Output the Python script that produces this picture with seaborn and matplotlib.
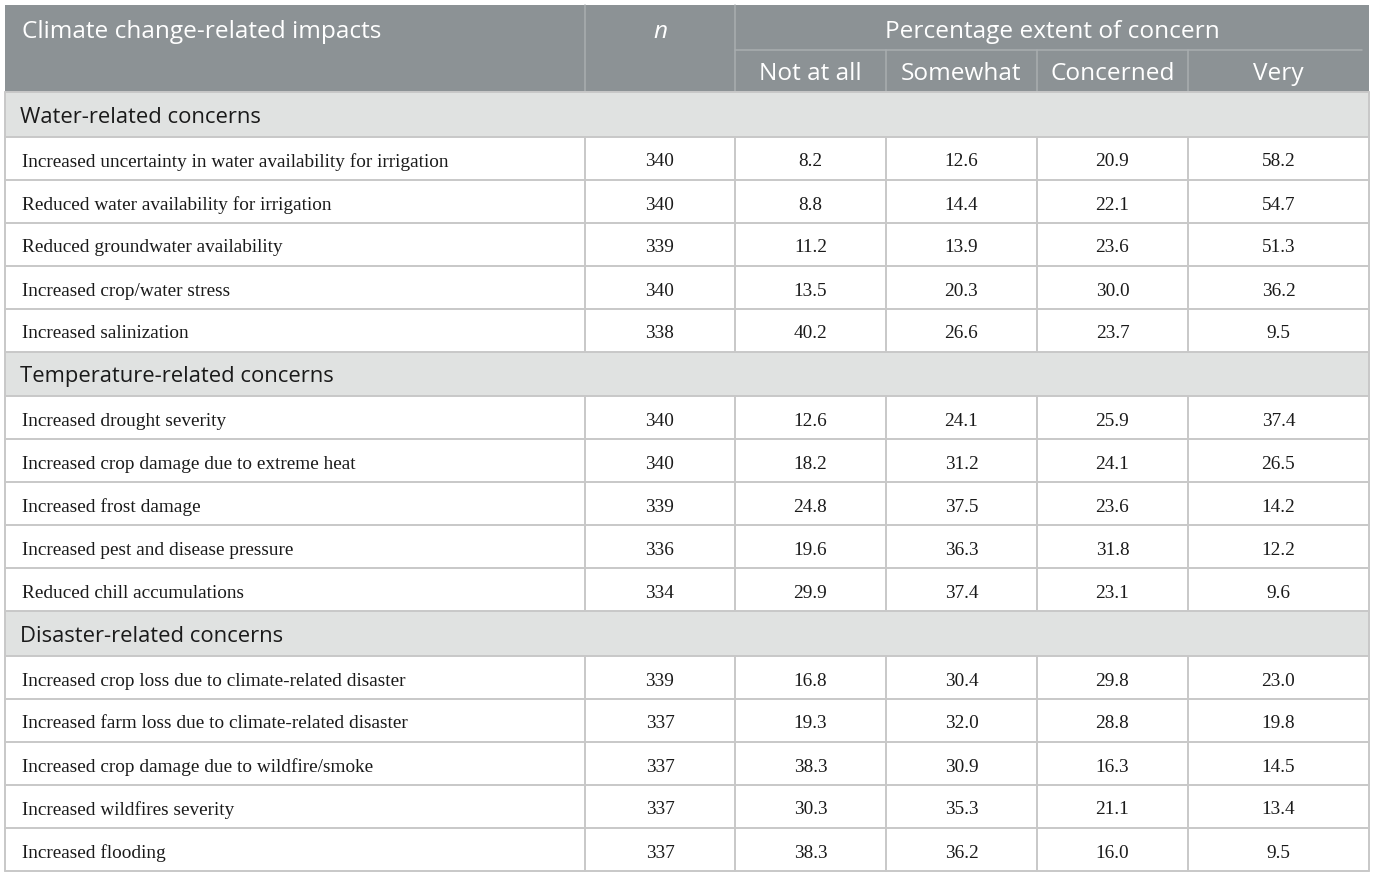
import numpy as np
import seaborn as sns
import matplotlib.pyplot as plt
from matplotlib.patches import Rectangle

# Du lieu bang
sections = ["Water-related concerns", "Temperature-related concerns", "Disaster-related concerns"]

water_items = [
    "Increased uncertainty in water availability for irrigation",
    "Reduced water availability for irrigation",
    "Reduced groundwater availability",
    "Increased crop/water stress",
    "Increased salinization",
]
water_n = [340, 340, 339, 340, 338]
water_pct = [
    [8.2, 12.6, 20.9, 58.2],
    [8.8, 14.4, 22.1, 54.7],
    [11.2, 13.9, 23.6, 51.3],
    [13.5, 20.3, 30.0, 36.2],
    [40.2, 26.6, 23.7, 9.5],
]

temp_items = [
    "Increased drought severity",
    "Increased crop damage due to extreme heat",
    "Increased frost damage",
    "Increased pest and disease pressure",
    "Reduced chill accumulations",
]
temp_n = [340, 340, 339, 336, 334]
temp_pct = [
    [12.6, 24.1, 25.9, 37.4],
    [18.2, 31.2, 24.1, 26.5],
    [24.8, 37.5, 23.6, 14.2],
    [19.6, 36.3, 31.8, 12.2],
    [29.9, 37.4, 23.1, 9.6],
]

disaster_items = [
    "Increased crop loss due to climate-related disaster",
    "Increased farm loss due to climate-related disaster",
    "Increased crop damage due to wildfire/smoke",
    "Increased wildfires severity",
    "Increased flooding",
]
disaster_n = [339, 337, 337, 337, 337]
disaster_pct = [
    [16.8, 30.4, 29.8, 23.0],
    [19.3, 32.0, 28.8, 19.8],
    [38.3, 30.9, 16.3, 14.5],
    [30.3, 35.3, 21.1, 13.4],
    [38.3, 36.2, 16.0, 9.5],
]

header_main = "Climate change-related impacts"
header_n = "n"
header_group = "Percentage extent of concern"
levels = ["Not at all", "Somewhat", "Concerned", "Very"]

groups = [
    (sections[0], water_items, water_n, water_pct),
    (sections[1], temp_items, temp_n, temp_pct),
    (sections[2], disaster_items, disaster_n, disaster_pct),
]

# Bo cuc (pixel)
col_edges = [5, 585, 735, 886, 1037, 1188, 1369]
head_top, head_mid, head_bot = 5, 50, 92
sec_h, row_h = 44.5, 43.0

header_bg = "#8c9295"
section_bg = "#e0e2e1"
line_col = "#c8c8c8"
head_line = "#a9aeb0"

sns.set_theme(style="white")
sans = ["Open Sans", "DejaVu Sans"]
serif = ["Liberation Serif", "DejaVu Serif"]

fig = plt.figure(figsize=(13.75, 8.73), dpi=100)
ax = fig.add_axes([0, 0, 1, 1])
ax.set_xlim(0, 1375)
ax.set_ylim(873, 0)
ax.axis("off")

left, right = col_edges[0], col_edges[-1]
lw = 1.4

# Header
ax.add_patch(Rectangle((left, head_top), right - left, head_bot - head_top,
                       facecolor=header_bg, edgecolor="none"))
for x in col_edges[1:3]:
    ax.plot([x, x], [head_top, head_bot], color=head_line, lw=1.1)
for x in col_edges[3:-1]:
    ax.plot([x, x], [head_mid, head_bot], color=head_line, lw=1.1)
ax.plot([col_edges[2], right - 7], [head_mid, head_mid], color=head_line, lw=1.1)

hs = 17.6
ax.text(22, 32, header_main, color="white",
        fontsize=hs, family=sans, va="center", ha="left")
ax.text((col_edges[1] + col_edges[2]) / 2, 32, header_n,
        color="white", fontsize=hs, family=sans, style="italic", va="center", ha="center")
ax.text((col_edges[2] + right) / 2, 32, header_group,
        color="white", fontsize=hs, family=sans, va="center", ha="center")
for j, lab in enumerate(levels):
    cx = (col_edges[j + 2] + col_edges[j + 3]) / 2
    ax.text(cx, 73.5, lab, color="white",
            fontsize=hs, family=sans, va="center", ha="center")

# Body
y = head_bot
ax.plot([left, right], [y, y], color=line_col, lw=lw)
for sec, items, ns, pcts in groups:
    ax.add_patch(Rectangle((left, y), right - left, sec_h,
                           facecolor=section_bg, edgecolor="none"))
    ax.text(20, y + sec_h / 2 + 3, sec, fontsize=15.8, family=sans,
            color="#1a1a1a", va="center", ha="left")
    ax.plot([left, left], [y, y + sec_h], color=line_col, lw=lw)
    ax.plot([right, right], [y, y + sec_h], color=line_col, lw=lw)
    y += sec_h
    ax.plot([left, right], [y, y], color=line_col, lw=lw)
    for item, n, row in zip(items, ns, pcts):
        cy = y + row_h / 2 + 4
        ax.text(22, cy, item, fontsize=13.9, family=serif, color="#1a1a1a",
                va="center", ha="left")
        ax.text((col_edges[1] + col_edges[2]) / 2, cy, str(n), fontsize=13.9,
                family=serif, color="#1a1a1a", va="center", ha="center")
        for j, v in enumerate(row):
            cx = (col_edges[j + 2] + col_edges[j + 3]) / 2
            ax.text(cx, cy, f"{v:.1f}", fontsize=13.9, family=serif,
                    color="#1a1a1a", va="center", ha="center")
        for x in col_edges:
            ax.plot([x, x], [y, y + row_h], color=line_col, lw=lw)
        y += row_h
        ax.plot([left, right], [y, y], color=line_col, lw=lw)

fig.savefig("out.png", dpi=100)
